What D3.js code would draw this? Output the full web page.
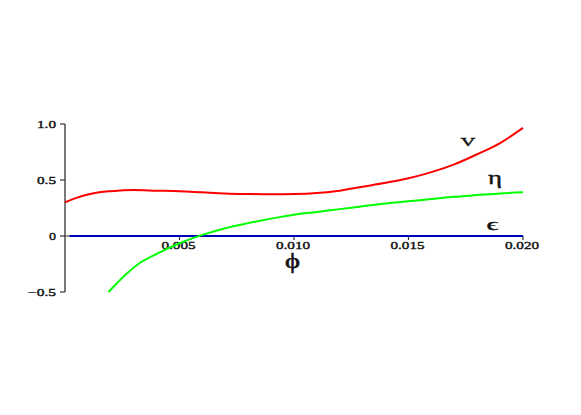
<!DOCTYPE html>
<html><head><meta charset="utf-8">
<script src="https://cdn.jsdelivr.net/npm/d3@7/dist/d3.min.js"></script>
<style>body{margin:0;background:#fff}svg{display:block}</style>
</head><body>
<script>
const xTicks = [0.005, 0.010, 0.015, 0.020];
const xTickLabels = ["0.005", "0.010", "0.015", "0.020"];
const yTicks = [1.0, 0.5, 0, -0.5];
const yTickLabels = ["1.0", "0.5", "0", "\u22120.5"];

const phiV = [0,0.0005,0.001,0.0015,0.002,0.003,0.004,0.005,0.006,0.007,0.008,0.009,0.010,0.011,0.012,0.013,0.014,0.015,0.016,0.017,0.018,0.019,0.020];
const valV = [0.30,0.34,0.37,0.39,0.40,0.41,0.405,0.40,0.39,0.38,0.375,0.372,0.375,0.385,0.405,0.44,0.475,0.515,0.57,0.64,0.73,0.83,0.965];

const phiEta = [0.0019,0.0023,0.0027,0.0032,0.0040,0.0050,0.0060,0.0070,0.0080,0.0090,0.0100,0.0110,0.0120,0.0130,0.0140,0.0150,0.0160,0.0170,0.0180,0.0190,0.0200];
const valEta = [-0.50,-0.415,-0.335,-0.25,-0.16,-0.065,0.01,0.07,0.115,0.155,0.19,0.215,0.24,0.265,0.29,0.31,0.33,0.35,0.365,0.38,0.39];

const phiEps = [0.0002, 0.020];
const valEps = [0, 0];

const W = 581, H = 415;
const svg = d3.select("body").append("svg").attr("width", W).attr("height", H);
const x = d3.scaleLinear().domain([0, 0.02]).range([65, 523]);
const y = d3.scaleLinear().domain([-0.5, 1.0]).range([292, 124]);

const tickFont = "'Liberation Serif', 'DejaVu Serif', serif";

// y axis
svg.append("line").attr("x1", x(0)).attr("x2", x(0)).attr("y1", y(1.0)).attr("y2", y(-0.5))
  .attr("stroke", "#333").attr("stroke-width", 1.3);
yTicks.forEach((t, i) => {
  const lbl = yTickLabels[i];
  svg.append("line").attr("x1", x(0) - 5).attr("x2", x(0)).attr("y1", y(t)).attr("y2", y(t))
    .attr("stroke", "#333").attr("stroke-width", 1.2);
  svg.append("text").attr("x", 56).attr("y", y(t) + 4.3)
    .attr("text-anchor", "end").attr("font-family", tickFont).attr("font-size", 10)
    .attr("textLength", lbl.length === 1 ? 7 : (lbl.length === 3 ? 19 : 28))
    .attr("lengthAdjust", "spacingAndGlyphs")
    .attr("stroke", "#111").attr("stroke-width", 0.35).attr("fill", "#111").text(lbl);
});

// x axis
svg.append("line").attr("x1", x(0)).attr("x2", x(0.02)).attr("y1", y(0)).attr("y2", y(0))
  .attr("stroke", "#333").attr("stroke-width", 1);
xTicks.forEach((t, i) => {
  svg.append("line").attr("x1", x(t)).attr("x2", x(t)).attr("y1", y(0)).attr("y2", y(0) + 4)
    .attr("stroke", "#333").attr("stroke-width", 1.2);
  svg.append("text").attr("x", x(t) - 1).attr("y", y(0) + 12.5)
    .attr("text-anchor", "middle").attr("font-family", tickFont).attr("font-size", 10)
    .attr("textLength", 34).attr("lengthAdjust", "spacingAndGlyphs")
    .attr("stroke", "#111").attr("stroke-width", 0.35).attr("fill", "#111").text(xTickLabels[i]);
});

const line = d3.line().x(d => x(d[0])).y(d => y(d[1])).curve(d3.curveMonotoneX);

svg.append("path").datum(d3.zip(phiEps, valEps)).attr("d", line)
  .attr("fill", "none").attr("stroke", "#0000b4").attr("stroke-width", 2);
svg.append("path").datum(d3.zip(phiV, valV)).attr("d", line)
  .attr("fill", "none").attr("stroke", "#ff0000").attr("stroke-width", 2);
svg.append("path").datum(d3.zip(phiEta, valEta)).attr("d", line)
  .attr("fill", "none").attr("stroke", "#00ff00").attr("stroke-width", 2);

// curve labels
svg.append("text").attr("x", 468).attr("y", 145.5).attr("text-anchor", "middle")
  .attr("font-family", tickFont).attr("font-size", 12.5)
  .attr("stroke", "#111").attr("stroke-width", 0.4)
  .attr("textLength", 15).attr("lengthAdjust", "spacingAndGlyphs").attr("fill", "#111").text("V");
svg.append("text").attr("x", 495).attr("y", 184).attr("text-anchor", "middle")
  .attr("font-family", tickFont).attr("font-size", 18)
  .attr("stroke", "#111").attr("stroke-width", 0.4)
  .attr("textLength", 14).attr("lengthAdjust", "spacingAndGlyphs").attr("fill", "#111").text("\u03B7");
svg.append("text").attr("x", 492.5).attr("y", 230).attr("text-anchor", "middle")
  .attr("font-family", tickFont).attr("font-size", 16)
  .attr("stroke", "#111").attr("stroke-width", 0.4)
  .attr("textLength", 12).attr("lengthAdjust", "spacingAndGlyphs").attr("fill", "#111").text("\u03F5");
svg.append("text").attr("x", 292.5).attr("y", 268).attr("text-anchor", "middle")
  .attr("font-family", tickFont).attr("font-size", 20)
  .attr("stroke", "#111").attr("stroke-width", 0.5)
  .attr("textLength", 15).attr("lengthAdjust", "spacingAndGlyphs").attr("fill", "#111").text("\u03D5");
</script>
</body></html>
